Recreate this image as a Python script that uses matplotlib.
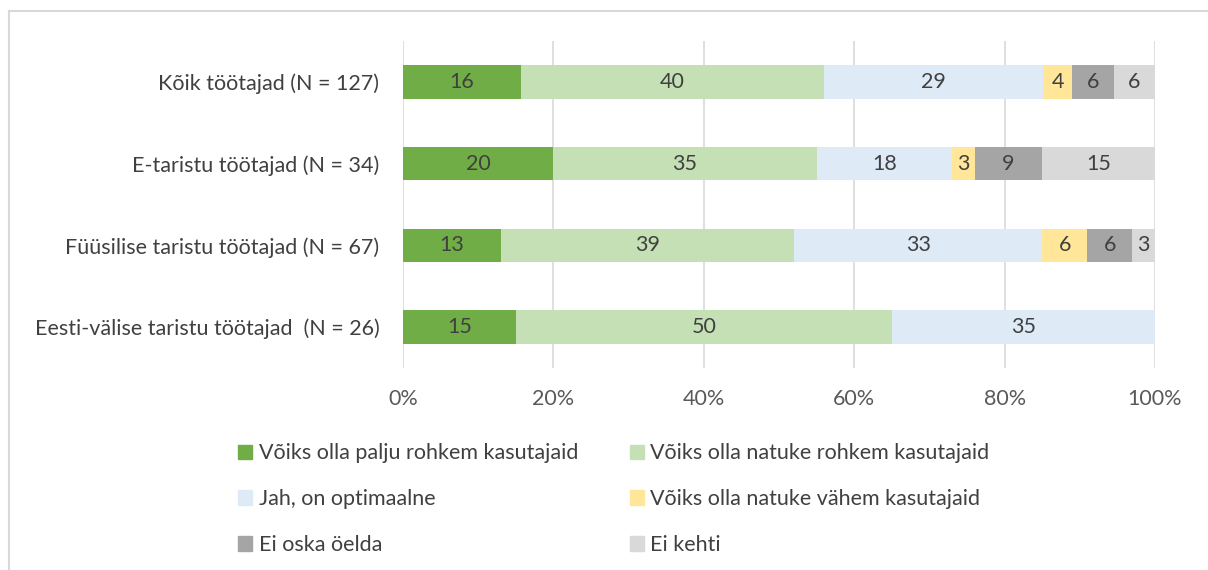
import numpy as np
import matplotlib
matplotlib.use("Agg")
import matplotlib.pyplot as plt
from matplotlib.patches import Patch
from matplotlib.lines import Line2D

plt.rcParams['font.family'] = ['Lato', 'DejaVu Sans']

groups = ["Kõik töötajad (N = 127)",
          "E-taristu töötajad (N = 34)",
          "Füüsilise taristu töötajad (N = 67)",
          "Eesti-välise taristu töötajad  (N = 26)"]

series = ["Võiks olla palju rohkem kasutajaid",
          "Võiks olla natuke rohkem kasutajaid",
          "Jah, on optimaalne",
          "Võiks olla natuke vähem kasutajaid",
          "Ei oska öelda",
          "Ei kehti"]

# percentages per group, one list per answer
palju_rohkem = [15.7, 20, 13, 15]
natuke_rohkem = [40.2, 35, 39, 50]
optimaalne = [29.1, 18, 33, 35]
natuke_vahem = [3.9, 3, 6, 0]
ei_oska = [5.5, 9, 6, 0]
ei_kehti = [5.5, 15, 3, 0]

values = [palju_rohkem, natuke_rohkem, optimaalne, natuke_vahem, ei_oska, ei_kehti]
colors = ["#70AD47", "#C5E0B4", "#DEEBF7", "#FFE699", "#A5A5A5", "#D9D9D9"]

xticks = [0, 20, 40, 60, 80, 100]
xticklabels = ["0%", "20%", "40%", "60%", "80%", "100%"]

fs = 15.5

fig = plt.figure(figsize=(12.08, 5.70), dpi=100)
ax = fig.add_axes([403/1208, 1 - 368/570, (1155 - 403)/1208, (368 - 41)/570])

data = np.array(values, dtype=float)
data = data / data.sum(axis=0) * 100  # 100% stacked
y = np.arange(len(groups))
left = np.zeros(len(groups))
for i in range(len(series)):
    bars = ax.barh(y, data[i], left=left, height=0.41, color=colors[i], label=series[i], zorder=2)
    labels = [f"{v:.0f}" if v > 0 else "" for v in values[i]]
    ax.bar_label(bars, labels=labels, label_type='center', color="#404040", fontsize=fs)
    left += data[i]

ax.set_xlim(0, 100)
ax.set_ylim(3.5, -0.5)
ax.set_yticks(y)
ax.set_yticklabels(groups, fontsize=fs, color="#404040")
ax.set_xticks(xticks)
ax.set_xticklabels(xticklabels, fontsize=fs, color="#595959")
ax.tick_params(axis='both', length=0)
ax.tick_params(axis='y', pad=17)
ax.tick_params(axis='x', pad=15)
ax.grid(axis='x', color="#D9D9D9", linewidth=1.2, zorder=0)
for s in ax.spines.values():
    s.set_visible(False)

handles = [Patch(color=c) for c in colors]
order = [0, 2, 4, 1, 3, 5]
fig.legend([handles[i] for i in order], [series[i] for i in order],
           ncol=2, loc='upper left', bbox_to_anchor=(219/1208, 1 - 424/570),
           frameon=False, fontsize=fs, labelcolor="#404040",
           handlelength=0.65, handleheight=0.65, handletextpad=0.3,
           labelspacing=1.2, columnspacing=2.4)

# chart border (top and left edge visible)
fig.add_artist(Line2D([9/1208, 9/1208], [0, 1 - 11/570], color="#D9D9D9", lw=1.5))
fig.add_artist(Line2D([9/1208, 1], [1 - 11/570, 1 - 11/570], color="#D9D9D9", lw=1.5))

fig.savefig("out.png", dpi=100)
